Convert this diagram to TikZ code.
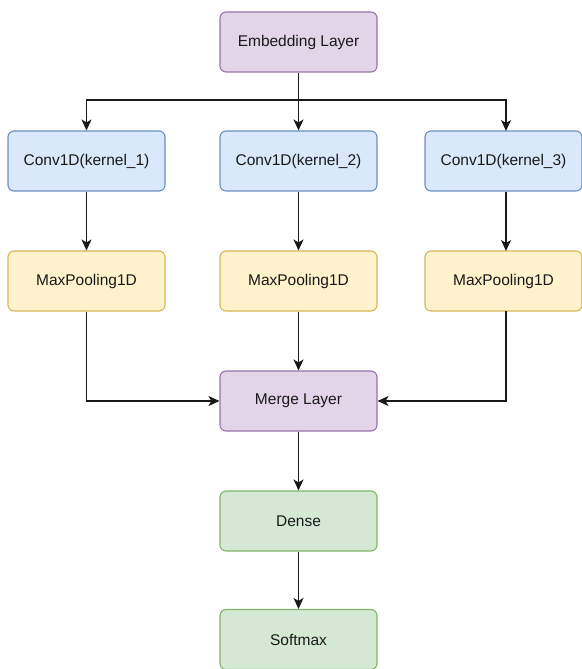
\documentclass[tikz,border=0pt]{standalone}
\usepackage{fontspec}
\setmainfont{Liberation Sans}
\usetikzlibrary{arrows.meta}
\definecolor{purpleF}{HTML}{E1D5E7}\definecolor{purpleD}{HTML}{9673A6}
\definecolor{blueF}{HTML}{DAE8FC}\definecolor{blueD}{HTML}{6C8EBF}
\definecolor{yellowF}{HTML}{FFF2CC}\definecolor{yellowD}{HTML}{D6B656}
\definecolor{greenF}{HTML}{D5E8D4}\definecolor{greenD}{HTML}{82B366}
\tikzset{
  box/.style={draw, rounded corners=6pt, line width=1.1pt, minimum width=157pt, minimum height=60pt, inner sep=0pt, font=\fontsize{15.5}{18}\selectfont, text=black!90},
  purplebox/.style={box, fill=purpleF, draw=purpleD},
  bluebox/.style={box, fill=blueF, draw=blueD},
  yellowbox/.style={box, fill=yellowF, draw=yellowD},
  greenbox/.style={box, fill=greenF, draw=greenD},
  conn/.style={line width=1.3pt, draw=black!90},
  arr/.style={conn, -{Stealth[length=11pt,width=10pt,inset=3pt]}}
}
\begin{document}
\begin{tikzpicture}[x=1pt,y=-1pt]
\useasboundingbox (0,0) rectangle (581,669);
\node[purplebox] (emb) at (298.5,42) {Embedding Layer};
\node[bluebox] (c1) at (86.5,161) {Conv1D(kernel\_1)};
\node[bluebox] (c2) at (298.5,161) {Conv1D(kernel\_2)};
\node[bluebox] (c3) at (503.5,161) {Conv1D(kernel\_3)};
\node[yellowbox] (m1) at (86.5,281) {MaxPooling1D};
\node[yellowbox] (m2) at (298.5,281) {MaxPooling1D};
\node[yellowbox] (m3) at (503.5,281) {MaxPooling1D};
\node[purplebox] (merge) at (298.5,401) {Merge Layer};
\node[greenbox] (dense) at (298.5,521) {Dense};
\node[greenbox] (soft) at (298.5,639.5) {Softmax};
\coordinate (split) at (298.5,100);
\coordinate (c3in) at (506,131);
\coordinate (m3top) at (506,251);
\coordinate (m3out) at (506,311);
\draw[arr] (emb.south) -- (c2.north);
\draw[arr] (split) -| (c1.north);
\draw[arr] (split) -| (c3in);
\draw[arr] (c1) -- (m1);
\draw[arr] (c2) -- (m2);
\draw[arr] (c3in |- c3.south) -- (m3top);
\draw[arr] (m1.south) |- (merge.west);
\draw[arr] (m2) -- (merge);
\draw[arr] (m3out) |- (merge.east);
\draw[arr] (merge) -- (dense);
\draw[arr] (dense) -- (soft);
\end{tikzpicture}
\end{document}
